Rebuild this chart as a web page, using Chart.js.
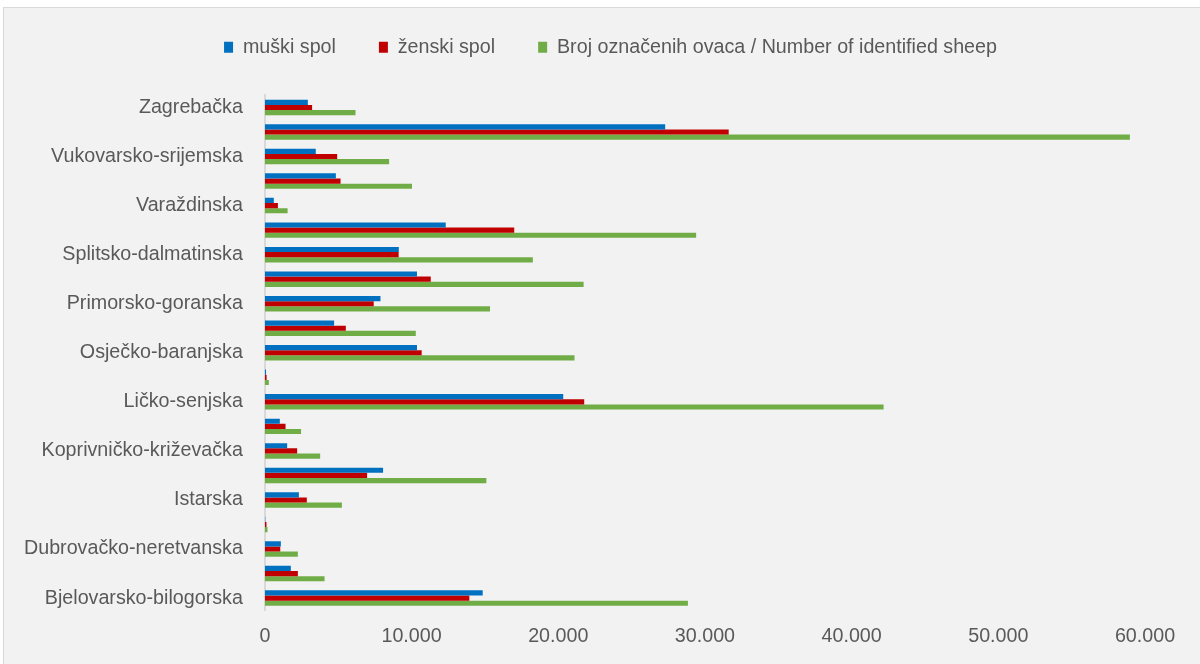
<!DOCTYPE html>
<html>
<head>
<meta charset="utf-8">
<script src="https://cdn.jsdelivr.net/npm/chart.js@4/dist/chart.umd.min.js"></script>
<style>
  body { margin: 0; background: #ffffff; width: 1200px; height: 664px; overflow: hidden; position: relative; }
  .chart-box { position: absolute; left: 3px; top: 7px; width: 1210px; height: 670px; border: 1px solid #d9d9d9; background: #f2f2f2; }
  #sheepChart { position: absolute; left: 0; top: 0; }
</style>
</head>
<body>
<div class="chart-box"></div>
<canvas id="sheepChart" width="1200" height="664"></canvas>
<script>
const counties = [
  "Zagrebačka",
  "Zadarska",
  "Vukovarsko-srijemska",
  "Virovitičko-podravska",
  "Varaždinska",
  "Šibensko-kninska",
  "Splitsko-dalmatinska",
  "Sisačko-moslavačka",
  "Primorsko-goranska",
  "Požeško-slavonska",
  "Osječko-baranjska",
  "Međimurska",
  "Ličko-senjska",
  "Krapinsko-zagorska",
  "Koprivničko-križevačka",
  "Karlovačka",
  "Istarska",
  "Grad Zagreb",
  "Dubrovačko-neretvanska",
  "Brodsko-posavska",
  "Bjelovarsko-bilogorska",
];
const maleSheep = [2930, 27290, 3470, 4840, 610, 12330, 9130, 10370, 7880, 4720, 10370, 80, 20340, 1020, 1520, 8060, 2320, 30, 1090, 1770, 14850];
const femaleSheep = [3220, 31620, 4930, 5160, 890, 17000, 9120, 11310, 7420, 5520, 10690, 120, 21770, 1410, 2200, 6970, 2860, 110, 1050, 2250, 13940];
const identifiedSheep = [6180, 58970, 8470, 10030, 1550, 29400, 18270, 21730, 15350, 10290, 21110, 270, 42180, 2470, 3770, 15100, 5250, 180, 2250, 4070, 28840];
const xTicksMax = 60000;
const xTicksStep = 10000;

const TEXT_COLOR = "#595959";
const FONT_FAMILY = "'Liberation Sans', Arial, sans-serif";
const FONT_SIZE = 19.7;

// legend offset (px) applied after layout so it sits where the original does
const LEGEND_DX = 37;
const LEGEND_DY = -28;

function formatThousands(v) {
  return String(v).replace(/\B(?=(\d{3})+(?!\d))/g, ".");
}

const legendShift = {
  id: "legendShift",
  afterLayout(chart) {
    const lg = chart.legend;
    if (!lg) return;
    lg.left += LEGEND_DX;
    lg.right += LEGEND_DX;
    lg.top += LEGEND_DY;
    lg.bottom += LEGEND_DY;
  },
};

const canvas = document.getElementById("sheepChart");
new Chart(canvas, {
  type: "bar",
  data: {
    labels: counties,
    datasets: [
      { label: "muški spol", data: maleSheep, backgroundColor: "#0070c0" },
      { label: "ženski spol", data: femaleSheep, backgroundColor: "#c00000" },
      { label: "Broj označenih ovaca / Number of identified sheep", data: identifiedSheep, backgroundColor: "#70ad47" },
    ],
  },
  plugins: [legendShift],
  options: {
    indexAxis: "y",
    responsive: false,
    animation: false,
    categoryPercentage: 0.63,
    barPercentage: 1,
    layout: { padding: { left: 2, right: 55, top: 22.5, bottom: 2 } },
    plugins: {
      legend: {
        position: "top",
        labels: {
          boxWidth: 9,
          boxHeight: 11,
          padding: 43,
          color: TEXT_COLOR,
          font: { family: FONT_FAMILY, size: FONT_SIZE },
        },
      },
      tooltip: { enabled: false },
    },
    scales: {
      x: {
        min: 0,
        max: xTicksMax,
        grid: { display: false, drawTicks: false },
        border: { display: false },
        ticks: {
          stepSize: xTicksStep,
          padding: 14,
          color: TEXT_COLOR,
          font: { family: FONT_FAMILY, size: FONT_SIZE },
          callback: (v) => formatThousands(v),
        },
      },
      y: {
        grid: { display: false, drawTicks: false },
        border: { display: true, color: "#d9d9d9", width: 2 },
        ticks: {
          autoSkip: false,
          padding: 22,
          color: TEXT_COLOR,
          font: { family: FONT_FAMILY, size: FONT_SIZE },
          callback: (v, i) => (i % 2 === 0 ? counties[i] : ""),
        },
      },
    },
  },
});
</script>
</body>
</html>
